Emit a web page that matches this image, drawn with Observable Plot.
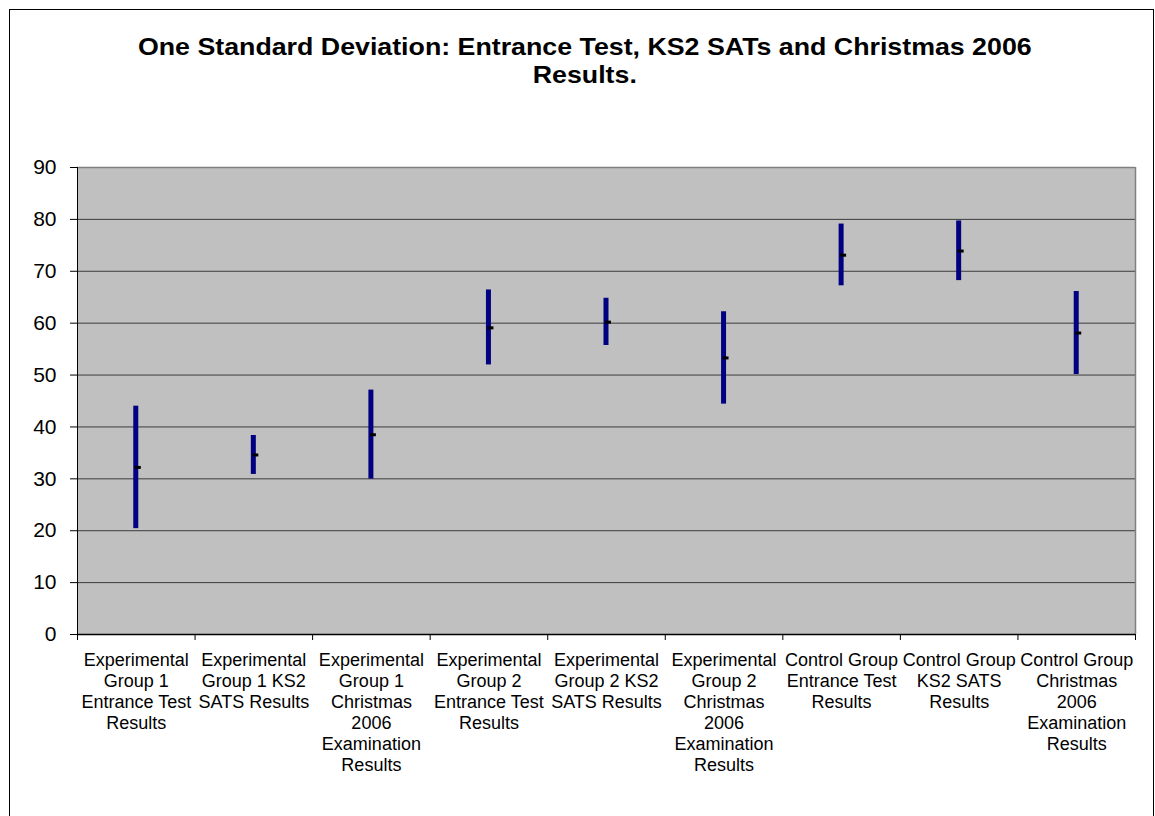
<!DOCTYPE html>
<html>
<head>
<meta charset="utf-8">
<script src="https://cdn.jsdelivr.net/npm/d3@7"></script>
<script src="https://cdn.jsdelivr.net/npm/@observablehq/plot@0.6"></script>
<style>
  body { margin: 0; background: #fff; font-family: "Liberation Sans", Arial, sans-serif; }
  #wrap { position: relative; width: 1155px; height: 816px; overflow: hidden; background: #fff; }
  #chart { position: absolute; left: 0; top: 0; }
  #border { position: absolute; left: 9px; top: 9px; width: 1143px; height: 840px; border: 1px solid #000; z-index: 2; }
  #title { position: absolute; left: 9px; width: 1152px; top: 33px; text-align: center; font-weight: bold;
           font-size: 24px; line-height: 28px; color: #000; z-index: 3; }
  #title span { display: inline-block; transform: scaleX(1.115); transform-origin: center; }
</style>
</head>
<body>
<div id="wrap">
  <div id="chart"></div>
  <div id="border"></div>
  <div id="title"><span>One Standard Deviation: Entrance Test, KS2 SATs and Christmas 2006<br>Results.</span></div>
</div>
<script>
// ---- data ----
const categories = [
  "Experimental\nGroup 1\nEntrance Test\nResults",
  "Experimental\nGroup 1 KS2\nSATS Results",
  "Experimental\nGroup 1\nChristmas\n2006\nExamination\nResults",
  "Experimental\nGroup 2\nEntrance Test\nResults",
  "Experimental\nGroup 2 KS2\nSATS Results",
  "Experimental\nGroup 2\nChristmas\n2006\nExamination\nResults",
  "Control Group\nEntrance Test\nResults",
  "Control Group\nKS2 SATS\nResults",
  "Control Group\nChristmas\n2006\nExamination\nResults"
];
const highValues = [44.0, 38.35, 47.1, 66.4, 64.8, 62.2, 79.1, 79.7, 66.1];
const lowValues  = [20.4, 30.85, 29.95, 51.95, 55.7, 44.4, 67.2, 68.2, 50.1];
const meanValues = [32.2, 34.6, 38.5, 59.1, 60.2, 53.3, 73.1, 73.9, 58.1];
const yTicks = [0, 10, 20, 30, 40, 50, 60, 70, 80, 90];

// slot index of each category on a linear x scale (category i occupies [i, i+1])
const rows = categories.map((label, i) => ({
  label, pos: i + 0.5, high: highValues[i], low: lowValues[i], mean: meanValues[i]
}));
const boundaries = d3.range(categories.length + 1);

const dash = { draw(context) { context.rect(-3, -1.5, 6, 3); } };

const chart = Plot.plot({
  width: 1155,
  height: 816,
  marginLeft: 77,
  marginRight: 20,
  marginTop: 167,
  marginBottom: 182,
  style: { fontFamily: "'Liberation Sans', Arial, sans-serif", fontSize: "18px", background: "transparent", color: "#000" },
  x: { type: "linear", domain: [0, categories.length], axis: null },
  y: { domain: [0, 90], axis: null },
  marks: [
    Plot.frame({ fill: "#c0c0c0", stroke: null }),
    Plot.gridY(yTicks.filter(d => d > 0 && d < 90), { stroke: "#3c3c3c", strokeOpacity: 1 }),
    Plot.ruleY([90], { stroke: "#808080", strokeWidth: 1.5 }),
    Plot.ruleX([categories.length], { stroke: "#808080", strokeWidth: 1.5 }),
    Plot.ruleX([0], { stroke: "#000" }),
    Plot.ruleY([0], { stroke: "#000", strokeWidth: 1.5 }),
    Plot.axisY(yTicks, { anchor: "left", tickSize: 7, tickPadding: 14, fontSize: 21, stroke: "#000", label: null }),
    Plot.axisX(boundaries, { anchor: "bottom", tickSize: 6, tickFormat: () => "", stroke: "#000", label: null }),
    Plot.ruleX(rows, { x: "pos", y1: "low", y2: "high", stroke: "#000080", strokeWidth: 5, dx: -0.5 }),
    Plot.dot(rows, { x: "pos", y: "mean", symbol: dash, fill: "#000", stroke: null, dx: 1.5 }),
    Plot.text(rows, { x: "pos", frameAnchor: "bottom", text: "label", lineAnchor: "top", dy: 17,
                      fontSize: 18, lineHeight: 1.167, fill: "#000" })
  ]
});
document.getElementById("chart").appendChild(chart);
</script>
</body>
</html>
